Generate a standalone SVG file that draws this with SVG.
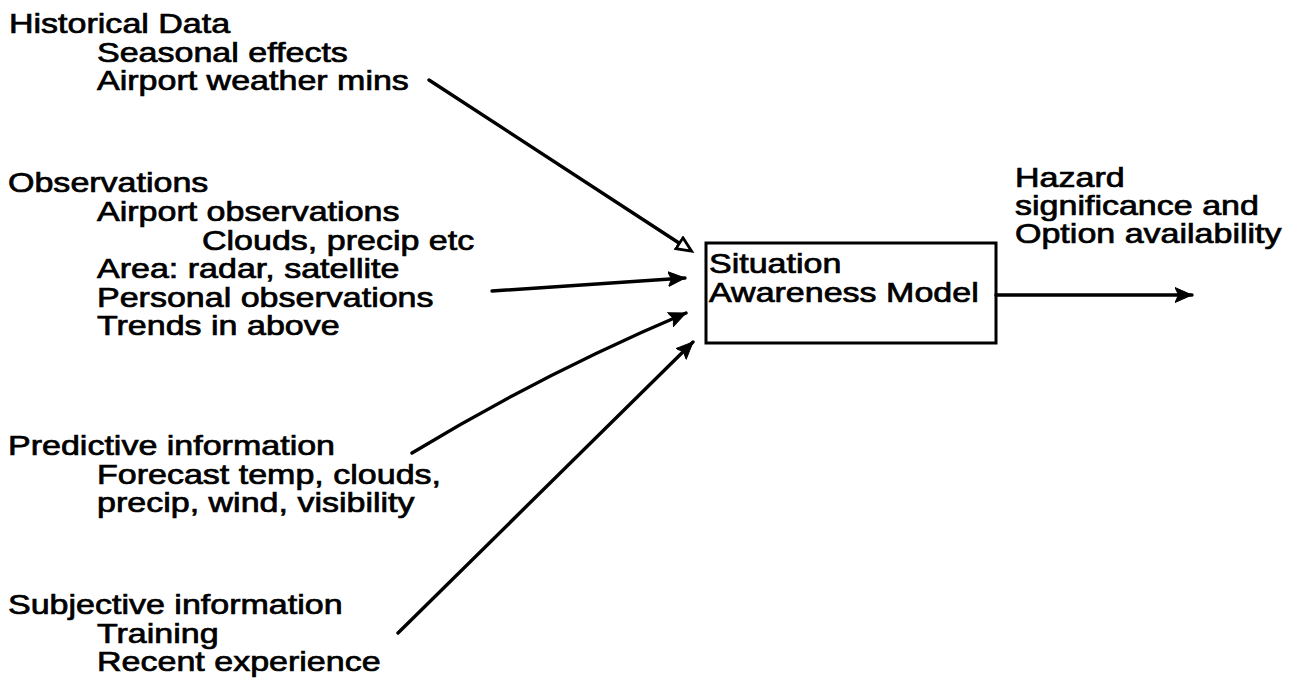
<svg xmlns="http://www.w3.org/2000/svg" width="1301" height="698" viewBox="0 0 1301 698">
  <style>
    .t { font-family: "Liberation Sans", Arial, Helvetica, sans-serif; font-size: 27px; fill: #000; stroke: #000; stroke-width: 0.7; }
    .wire { fill: none; stroke: #000; stroke-width: 3.4; stroke-linecap: round; }
    .box { fill: #fff; stroke: #000; stroke-width: 3; }
  </style>
  <defs>
    <marker id="solid" markerUnits="userSpaceOnUse" markerWidth="20" markerHeight="18" refX="17" refY="8" orient="auto">
      <path d="M0,0.5 L17,8 L0,15.5 L3.5,8 z" fill="#000" stroke="#000" stroke-width="1" stroke-linejoin="round"/>
    </marker>
    <marker id="open" markerUnits="userSpaceOnUse" markerWidth="20" markerHeight="18" refX="1" refY="8" orient="auto">
      <path d="M1.5,1.5 L16,8 L1.5,14.5 z" fill="#fff" stroke="#000" stroke-width="2.8" stroke-linejoin="miter"/>
    </marker>
  </defs>
  <rect width="1301" height="698" fill="#fff"/>

  <!-- input groups -->
  <g id="historical">
    <g transform="translate(9,33) scale(1.26,1)"><text class="t">Historical Data</text></g>
    <g transform="translate(97,62) scale(1.26,1)"><text class="t">Seasonal effects</text></g>
    <g transform="translate(97,90) scale(1.26,1)"><text class="t">Airport weather mins</text></g>
  </g>

  <g id="observations">
    <g transform="translate(8,192) scale(1.26,1)"><text class="t">Observations</text></g>
    <g transform="translate(97,221) scale(1.26,1)"><text class="t">Airport observations</text></g>
    <g transform="translate(202,250) scale(1.26,1)"><text class="t">Clouds, precip etc</text></g>
    <g transform="translate(97,278) scale(1.26,1)"><text class="t">Area: radar, satellite</text></g>
    <g transform="translate(97,307) scale(1.26,1)"><text class="t">Personal observations</text></g>
    <g transform="translate(97,335) scale(1.26,1)"><text class="t">Trends in above</text></g>
  </g>

  <g id="predictive">
    <g transform="translate(8,455) scale(1.26,1)"><text class="t">Predictive information</text></g>
    <g transform="translate(97,484) scale(1.26,1)"><text class="t">Forecast temp, clouds,</text></g>
    <g transform="translate(97,512) scale(1.26,1)"><text class="t">precip, wind, visibility</text></g>
  </g>

  <g id="subjective">
    <g transform="translate(8,614) scale(1.26,1)"><text class="t">Subjective information</text></g>
    <g transform="translate(97,643) scale(1.26,1)"><text class="t">Training</text></g>
    <g transform="translate(97,671) scale(1.26,1)"><text class="t">Recent experience</text></g>
  </g>

  <!-- central model -->
  <g id="model">
    <rect class="box" x="706" y="243" width="290" height="100"/>
    <g transform="translate(709,273) scale(1.26,1)"><text class="t">Situation</text></g>
    <g transform="translate(709,302) scale(1.26,1)"><text class="t">Awareness Model</text></g>
  </g>

  <!-- output -->
  <g id="output">
    <g transform="translate(1015,187) scale(1.26,1)"><text class="t">Hazard</text></g>
    <g transform="translate(1015,215) scale(1.26,1)"><text class="t">significance and</text></g>
    <g transform="translate(1015,243) scale(1.26,1)"><text class="t">Option availability</text></g>
  </g>

  <!-- connectors -->
  <g id="connectors">
    <path class="wire" d="M429,80 L679,243" marker-end="url(#open)"/>
    <path class="wire" d="M492,291 L685,278" marker-end="url(#solid)"/>
    <path class="wire" d="M412,453 Q542,374 686,313" marker-end="url(#solid)"/>
    <path class="wire" d="M398,633 L693,342" marker-end="url(#solid)"/>
    <path class="wire" d="M996,295 L1192,295" marker-end="url(#solid)"/>
  </g>
</svg>
